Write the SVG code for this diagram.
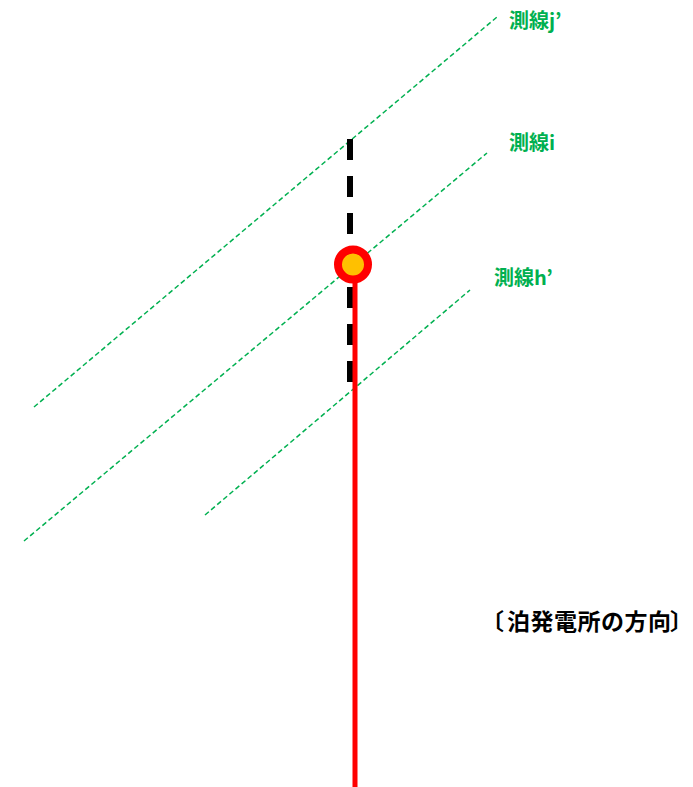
<svg xmlns="http://www.w3.org/2000/svg" width="693" height="787" viewBox="0 0 693 787">
<style>
.survey{stroke:#00B050;stroke-width:1.5;stroke-dasharray:5 3;fill:none}
.lbl{font-family:"Noto Sans CJK JP","Noto Sans CJK SC",sans-serif;font-weight:bold;font-size:20px;fill:#00B050}
.dir{font-family:"Noto Sans CJK JP","Noto Sans CJK SC",sans-serif;font-weight:bold;font-size:23px;fill:#000}
</style>
<rect width="693" height="787" fill="#fff"/>
<g id="connectors">
<line class="survey" x1="34" y1="407" x2="497" y2="17"/>
<line class="survey" x1="24" y1="541" x2="487" y2="153"/>
<line class="survey" x1="205" y1="515" x2="470" y2="290"/>
<line x1="350" y1="139" x2="350" y2="384" stroke="#000" stroke-width="6" stroke-dasharray="21 16"/>
<line x1="355" y1="265" x2="355" y2="787" stroke="#FF0000" stroke-width="5"/>
</g>
<g id="point">
<circle cx="353" cy="264.5" r="15" fill="#FFC000" stroke="#FF0000" stroke-width="8"/>
</g>
<g id="label-j"><text class="lbl" x="509" y="28">測線j’</text></g>
<g id="label-i"><text class="lbl" x="509" y="150">測線i</text></g>
<g id="label-h"><text class="lbl" x="494" y="285">測線h’</text></g>
<g id="direction"><text class="dir" y="630"><tspan x="481">〔</tspan><tspan x="507" textLength="164" lengthAdjust="spacing">泊発電所の方向</tspan><tspan x="670">〕</tspan></text></g>
</svg>
